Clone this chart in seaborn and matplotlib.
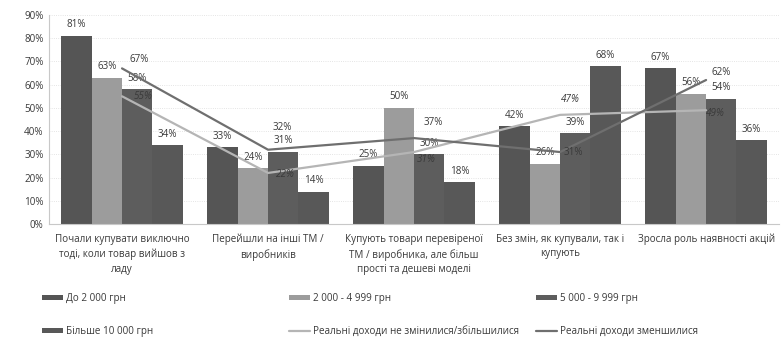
import matplotlib
matplotlib.use("Agg")
import matplotlib.pyplot as plt
from matplotlib.patches import Patch
from matplotlib.lines import Line2D
import numpy as np
import pandas as pd
import seaborn as sns

# ---- data -------------------------------------------------------------
categories = [
    "Почали купувати виключно\nтоді, коли товар вийшов з\nладу",
    "Перейшли на інші ТМ /\nвиробників",
    "Купують товари перевіреної\nТМ / виробника, але більш\nпрості та дешеві моделі",
    "Без змін, як купували, так і\nкупують",
    "Зросла роль наявності акцій",
]
income_groups = ["До 2 000 грн", "2 000 - 4 999 грн", "5 000 - 9 999 грн", "Більше 10 000 грн"]
upto_2000 = [81, 33, 25, 42, 67]
from_2000_4999 = [63, 24, 50, 26, 56]
from_5000_9999 = [58, 31, 30, 39, 54]
over_10000 = [34, 14, 18, 68, 36]

line_names = ["Реальні доходи не змінилися/збільшилися", "Реальні доходи зменшилися"]
income_same_or_up = [55, 22, 31, 47, 49]
income_down = [67, 32, 37, 31, 62]

# ---- styling ----------------------------------------------------------
sns.set_theme(style="white")
plt.rcParams["font.family"] = ["Open Sans", "DejaVu Sans"]
FS = 7.1
TXT = "#3a3a3a"
bar_colors = ["#555555", "#9c9c9c", "#5d5d5d", "#585858"]
line_colors = ["#b5b5b5", "#6f6f6f"]

bar_series = [upto_2000, from_2000_4999, from_5000_9999, over_10000]
rows = []
for g, vals in zip(income_groups, bar_series):
    for c, v in zip(categories, vals):
        rows.append({"category": c, "group": g, "value": v})
df = pd.DataFrame(rows)

fig = plt.figure(figsize=(7.83, 3.40), dpi=100)
ax = fig.add_axes([0.0626, 0.341, 0.9324, 0.615])

sns.barplot(data=df, x="category", y="value", hue="group", hue_order=income_groups,
            palette=bar_colors, order=categories, width=0.83, saturation=1,
            edgecolor="none", legend=False, ax=ax, zorder=2)

for cont in ax.containers:
    ax.bar_label(cont, fmt="%d%%", padding=4, fontsize=FS, color=TXT)

# income-change lines drawn at the category centres
xpos = np.arange(len(categories))
line_series = [income_same_or_up, income_down]
for name, vals, col in zip(line_names, line_series, line_colors):
    sns.lineplot(x=xpos, y=vals, color=col, linewidth=1.6, ax=ax, zorder=3, legend=False)

# label offsets (pixels) and styles for each line's points
offsets = [
    [(21, 0), (17, -2), (12, -7), (10, 15), (9, -3)],
    [(17, 9), (14, 22), (19, 16), (13, 0), (15, 8)],
]
label_styles = ["italic", "normal"]
for vals, offs, st in zip(line_series, offsets, label_styles):
    for x, v, (dx, dy) in zip(xpos, vals, offs):
        ax.annotate(f"{v}%", (x, v), xytext=(dx, dy), textcoords="offset pixels",
                    ha="center", va="center", fontsize=FS, color=TXT,
                    style=st, zorder=4)

ax.set_xlim(-0.5, len(categories) - 0.5)
ax.set_ylim(0, 90)
ax.set_yticks(range(0, 91, 10))
ax.set_yticklabels([f"{t}%" for t in range(0, 91, 10)], fontsize=FS, color=TXT)
ax.set_xticks(xpos)
ax.set_xticklabels(categories, fontsize=FS, color=TXT, linespacing=1.45)
ax.tick_params(axis="x", length=0, pad=7)
ax.tick_params(axis="y", length=0, pad=4)
ax.set_xlabel("")
ax.set_ylabel("")
ax.yaxis.grid(True, color="#dcdcdc", linestyle=":", linewidth=0.6)
ax.set_axisbelow(True)
for s in ["top", "right"]:
    ax.spines[s].set_visible(False)
for s in ["left", "bottom"]:
    ax.spines[s].set_color("#c8c8c8")
    ax.spines[s].set_linewidth(0.8)

# legend: three columns, two rows
handles = [Patch(facecolor=c, edgecolor="none") for c in bar_colors] + \
          [Line2D([], [], color=c, linewidth=1.6) for c in line_colors]
labels = income_groups + line_names
columns = [(0, 3), (1, 4), (2, 5)]
col_x = [42, 289, 536]
for (i, j), x in zip(columns, col_x):
    fig.legend([handles[i], handles[j]], [labels[i], labels[j]],
               loc="upper left", bbox_to_anchor=(x / 783, 1 - 293 / 340),
               frameon=False, fontsize=FS, labelcolor=TXT,
               handlelength=2.1, handleheight=0.5, handletextpad=0.3,
               labelspacing=2.25, borderpad=0, borderaxespad=0)

fig.savefig("out.png", dpi=100, facecolor="white")
